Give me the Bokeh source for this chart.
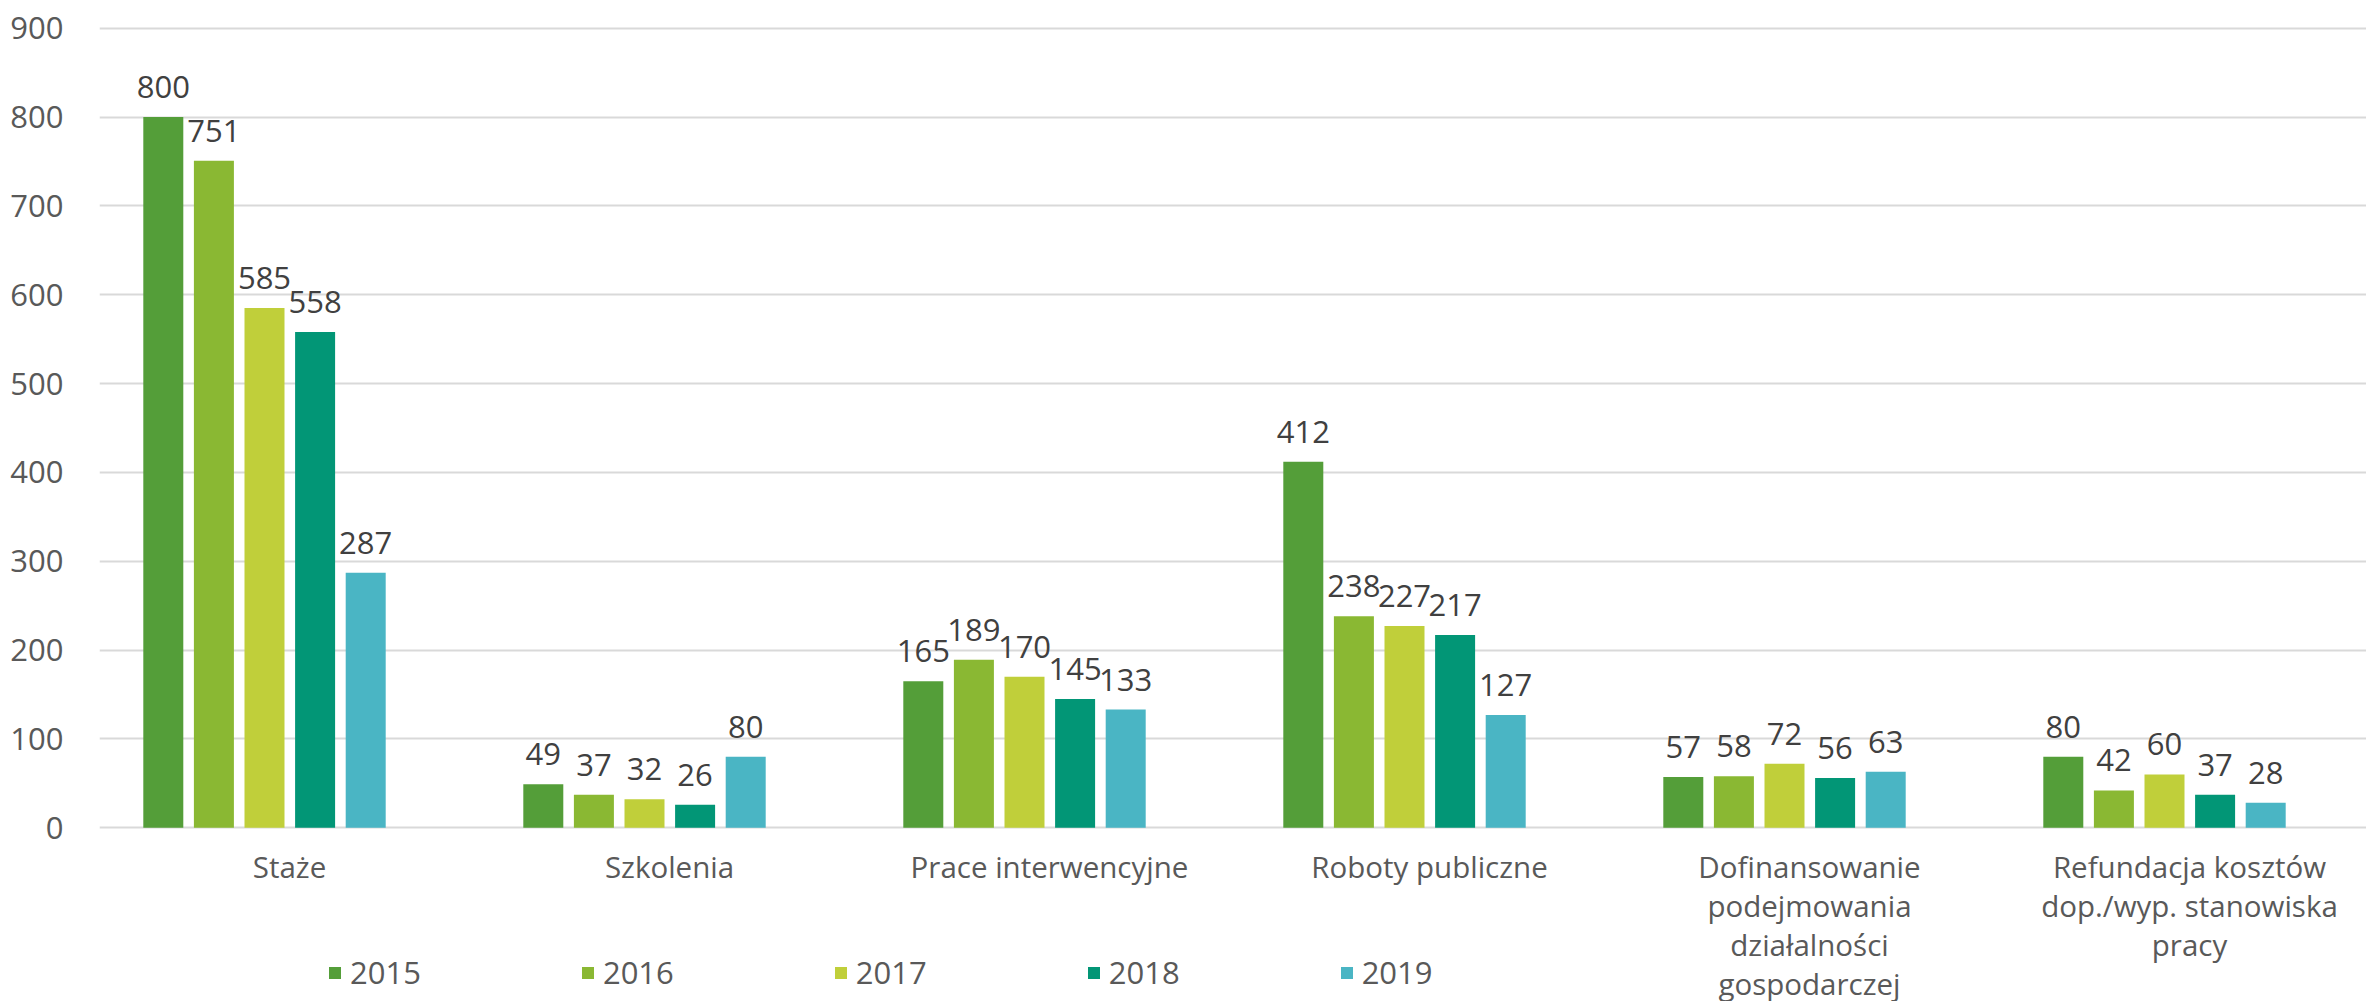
from bokeh.plotting import figure
from bokeh.models import (ColumnDataSource, LabelSet, Legend, LegendItem,
                          FixedTicker, Range1d)
from bokeh.core.properties import value
from bokeh.embed import file_html
from bokeh.resources import INLINE

# ---------------- data ----------------
categories = ["Staże", "Szkolenia", "Prace interwencyjne", "Roboty publiczne",
              "Dofinansowanie\npodejmowania\ndziałalności\ngospodarczej",
              "Refundacja kosztów\ndop./wyp. stanowiska\npracy"]
years = ["2015", "2016", "2017", "2018", "2019"]
v2015 = [800, 49, 165, 412, 57, 80]
v2016 = [751, 37, 189, 238, 58, 42]
v2017 = [585, 32, 170, 227, 72, 60]
v2018 = [558, 26, 145, 217, 56, 37]
v2019 = [287, 80, 133, 127, 63, 28]
series = [v2015, v2016, v2017, v2018, v2019]
y_ticks = [0, 100, 200, 300, 400, 500, 600, 700, 800, 900]

# ---------------- style / layout ----------------
colors = ["#549E39", "#8AB833", "#C0CF3A", "#029676", "#4AB5C4"]
FONT = "Open Sans"
FS = "31px"
CAT_FS = "29.5px"
BAND_PX = 380.0
FRAME_W = 2267
TOP_BORDER = 26
PX_PER_UNIT = 803 / 904.0
Y_TOP = 902
Y_BOTTOM = Y_TOP - (1001 - TOP_BORDER) / PX_PER_UNIT
GROUP_SHIFT = -25 / BAND_PX
BAR_PITCH = 50.6 / BAND_PX
BAR_W = 40 / BAND_PX

p = figure(output_backend="svg", toolbar_location=None,
           width=2366, height=1001,
           x_range=Range1d(-0.5, -0.5 + FRAME_W / BAND_PX),
           y_range=Range1d(Y_BOTTOM, Y_TOP),
           min_border_left=99, min_border_right=0, min_border_top=TOP_BORDER,
           min_border_bottom=0)
p.outline_line_color = None
p.background_fill_color = "white"
p.border_fill_color = "white"
p.xaxis.visible = False

p.xgrid.grid_line_color = None
p.ygrid.grid_line_color = "#D9D9D9"
p.ygrid.grid_line_width = 2
p.yaxis.ticker = FixedTicker(ticks=y_ticks)
p.yaxis.axis_line_color = None
p.yaxis.major_tick_line_color = None
p.yaxis.minor_tick_line_color = None
p.yaxis.major_label_standoff = 30
p.yaxis.major_label_text_font = FONT
p.yaxis.major_label_text_font_size = FS
p.yaxis.major_label_text_color = "#595959"

# category labels under the groups
cat_src = ColumnDataSource(dict(x=list(range(len(categories))),
                                y=[0] * len(categories), text=categories))
p.text(x="x", y="y", text="text", source=cat_src,
       text_align="center", text_baseline="top", y_offset=18,
       text_font=value(FONT), text_font_size=CAT_FS,
       text_color="#595959", text_line_height=0.95)

items = []
for i, (yr, vals, col) in enumerate(zip(years, series, colors)):
    xs = [k + GROUP_SHIFT + (i - 2) * BAR_PITCH for k in range(len(categories))]
    src = ColumnDataSource(dict(x=xs, top=vals, label=[str(v) for v in vals]))
    r = p.vbar(x="x", top="top", width=BAR_W, source=src,
               fill_color=col, line_color=None)
    lbl = LabelSet(x="x", y="top", text="label", source=src,
                   text_align="center", text_baseline="alphabetic",
                   y_offset=19, text_font=value(FONT), text_font_size=FS,
                   text_color="#404040")
    p.add_layout(lbl)
    items.append(LegendItem(label=yr, renderers=[r]))

legend = Legend(items=items, orientation="horizontal", location=(228, 8),
                glyph_width=15, glyph_height=15, label_standoff=8,
                spacing=159, padding=0, margin=0,
                label_text_font=FONT, label_text_font_size=FS,
                label_text_color="#595959",
                border_line_color=None, background_fill_alpha=0)
p.add_layout(legend, "center")

open("out.html", "w").write(file_html(p, INLINE))
